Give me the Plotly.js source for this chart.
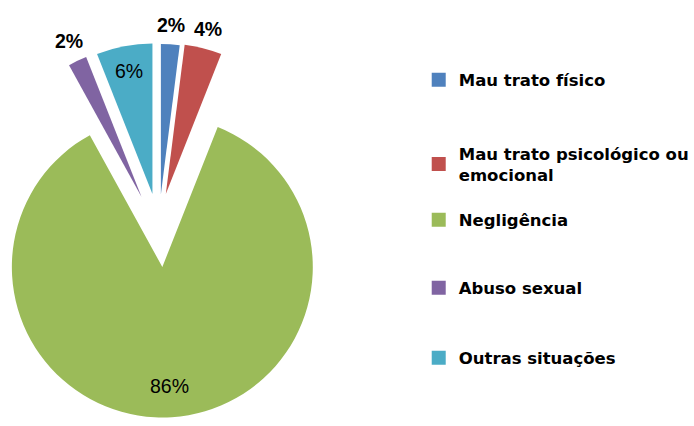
<!DOCTYPE html>
<html>
<head>
<meta charset="utf-8">
<script src="https://cdn.plot.ly/plotly-3.0.1.min.js"></script>
<style>
  html, body { margin: 0; padding: 0; background: #ffffff; overflow: hidden; width: 694px; height: 426px; }
  #chart { position: absolute; left: -100px; top: 0; width: 794px; height: 426px; }
</style>
</head>
<body>
<div id="chart"></div>
<script>
// ---- data ----
const categories = ['Mau trato físico', 'Mau trato psicológico ou<br>emocional', 'Negligência', 'Abuso sexual', 'Outras situações'];
const values = [2, 4, 86, 2, 6];
const colors = ['#4F81BD', '#C0504D', '#9BBB59', '#8064A2', '#4BACC6'];
const percentLabels = values.map(v => v + '%');

// ---- layout / style ----
const W = 794, H = 426, OX = 100;     // canvas is shifted 100px left of the window
const R = 152;                         // pie radius in px
// centre of each (exploded) slice, in window pixels
const centers = [[163.5, 194.5], [168.5, 194], [165, 267], [144, 197], [155, 194]];
const labelDist = [170, 170, 119, 172, 125];   // distance of the value label from the slice centre (px)
const boldText = [true, true, false, true, false];
const legendY = [80, 164, 220, 288, 358];   // window px, item centres
const legendLeft = 424;                      // window px

const transparent = 'rgba(0,0,0,0)';
const traces = [];
const annotations = [];
const total = values.reduce((a, b) => a + b, 0);
let cum = 0;

categories.forEach((cat, i) => {
  const cx = centers[i][0] + OX, cy = centers[i][1];
  traces.push({
    type: 'pie',
    labels: categories,
    values: values,
    sort: false,
    direction: 'clockwise',
    rotation: 0,
    domain: { x: [(cx - R) / W, (cx + R) / W], y: [1 - (cy + R) / H, 1 - (cy - R) / H] },
    marker: { colors: colors.map((c, j) => j === i ? c : transparent), line: { width: 0 } },
    textinfo: 'none',
    showlegend: false,
    hoverinfo: 'skip'
  });
  // value label along the slice bisector
  const mid = (cum + values[i] / 2) / total * 2 * Math.PI;
  cum += values[i];
  const lx = centers[i][0] + labelDist[i] * Math.sin(mid);
  const ly = centers[i][1] - labelDist[i] * Math.cos(mid);
  annotations.push({
    xref: 'paper', yref: 'paper',
    x: (lx + OX) / W, y: 1 - ly / H,
    xanchor: 'center', yanchor: 'middle',
    text: percentLabels[i], showarrow: false,
    font: { family: 'Liberation Sans, Arial, sans-serif', size: 19.5, color: '#000000', weight: boldText[i] ? 'bold' : 'normal' }
  });
});

// legend entries (one legend per category so spacing can follow the original)
categories.forEach((cat, i) => {
  traces.push({
    type: 'scatter',
    mode: 'markers',
    x: [null], y: [null],
    name: cat,
    marker: { symbol: 'square', size: 14, color: colors[i], line: { width: 0 } },
    legend: i === 0 ? 'legend' : 'legend' + (i + 1),
    hoverinfo: 'skip'
  });
});

const layout = {
  width: W, height: H,
  margin: { l: 0, r: 0, t: 0, b: 0 },
  paper_bgcolor: '#ffffff',
  plot_bgcolor: '#ffffff',
  xaxis: { visible: false },
  yaxis: { visible: false },
  showlegend: true,
  annotations: annotations
};
legendY.forEach((y, i) => {
  const key = i === 0 ? 'legend' : 'legend' + (i + 1);
  layout[key] = {
    x: (legendLeft + OX) / W, xanchor: 'left',
    y: 1 - y / H, yanchor: 'middle',
    bgcolor: 'rgba(0,0,0,0)', borderwidth: 0,
    font: { family: 'DejaVu Sans, sans-serif', size: 16.5, weight: 'bold', color: '#000000' },
    itemclick: false, itemdoubleclick: false
  };
});

Plotly.newPlot('chart', traces, layout, { displayModeBar: false, staticPlot: true });
</script>
</body>
</html>
